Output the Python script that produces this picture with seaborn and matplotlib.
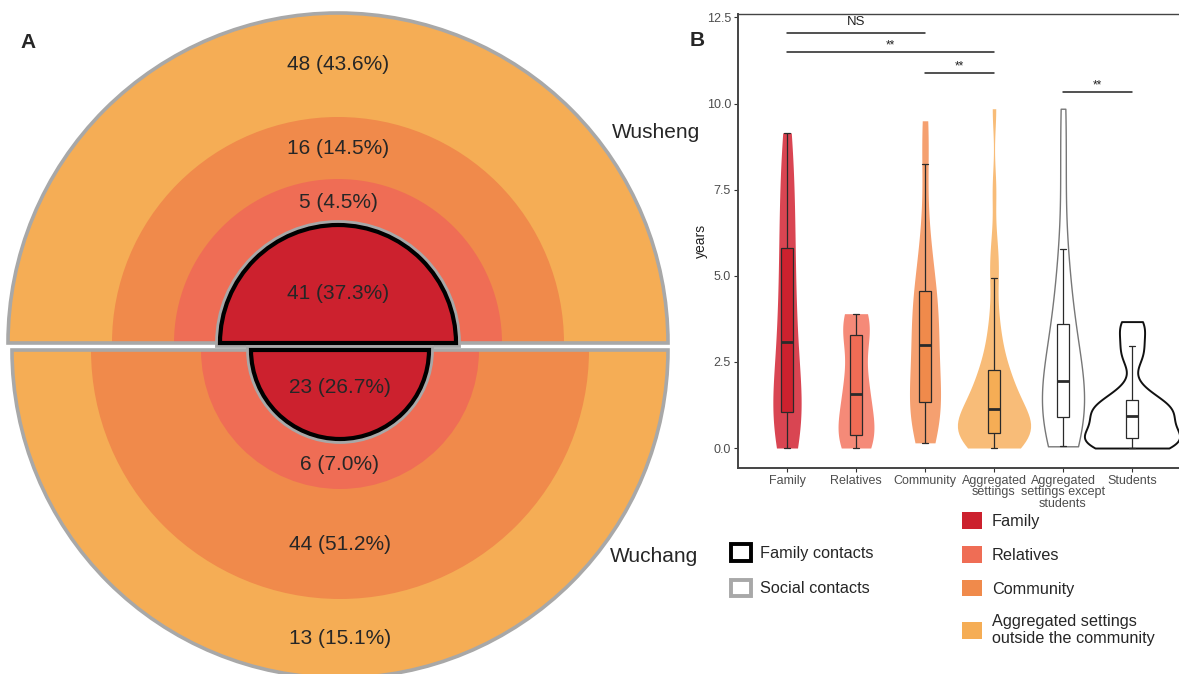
import numpy as np
import pandas as pd
import matplotlib
matplotlib.use("Agg")
import matplotlib.pyplot as plt
import seaborn as sns
from matplotlib.patches import Wedge, Patch

# ---- panel A data: contacts by setting, two towns
settings = ["Family", "Relatives", "Community", "Aggregated settings\noutside the community"]
wusheng_counts = [41, 5, 16, 48]
wuchang_counts = [23, 6, 44, 13]

groups = ["Family", "Relatives", "Community", "Aggregated\nsettings",
          "Aggregated\nsettings except\nstudents", "Students"]
family_years = [0.0, 0.2, 0.45, 0.7, 0.9, 1.06, 1.35, 1.7, 2.1, 2.6, 3.09,
                3.5, 4.0, 4.6, 5.2, 5.8, 6.4, 7.0, 7.7, 8.4, 9.15]
relatives_years = [0.0, 0.15, 0.3, 0.38, 0.8, 1.2, 1.56, 1.9, 2.4, 3.28, 3.5, 3.7, 3.9]
community_years = [0.15, 0.4, 0.7, 0.95, 1.15, 1.35, 1.6, 1.9, 2.3, 2.65, 3.0,
                   3.3, 3.6, 3.95, 4.3, 4.56, 5.0, 5.6, 6.5, 8.25, 9.5]
aggregated_years = [0.0, 0.05, 0.1, 0.15, 0.2, 0.25, 0.3, 0.35, 0.38, 0.42, 0.45,
                    0.5, 0.55, 0.6, 0.65, 0.7, 0.8, 0.85, 0.9, 1.0, 1.12,
                    1.2, 1.3, 1.4, 1.5, 1.6, 1.75, 1.9, 2.0, 2.15, 2.27,
                    2.5, 2.8, 3.1, 3.5, 4.0, 4.94, 5.3, 6.0, 7.5, 9.85]
except_students_years = [0.05, 0.2, 0.4, 0.6, 0.75, 0.91, 1.1, 1.3, 1.5, 1.7, 1.95,
                         2.2, 2.5, 2.8, 3.2, 3.6, 4.2, 4.9, 5.78, 8.0, 9.85]
students_years = [0.0, 0.05, 0.1, 0.15, 0.22, 0.29, 0.4, 0.5, 0.62, 0.8, 0.93,
                  1.0, 1.1, 1.2, 1.3, 1.38, 1.7, 2.6, 2.95, 3.4, 3.67]
group_values = [family_years, relatives_years, community_years, aggregated_years,
                except_students_years, students_years]

# significance brackets (group index pairs) and labels
sig_pairs = [(0, 2), (0, 3), (2, 3), (4, 5)]
sig_labels = ["NS", "**", "**", "**"]

# ---- styles / layout
ring_colors = ["#CC212E", "#EF6D55", "#F08A4B", "#F5AD55"]
violin_colors = ["#D94552", "#F58A78", "#F5A070", "#F8BC78", "white", "white"]
violin_edges = [None, None, None, None, "#777777", "#111111"]
box_colors = ["#CC212E", "#EF6C55", "#F08A4B", "#F5AD55", "white", "white"]
violin_width = [0.41, 0.52, 0.45, 1.06, 0.61, 1.38]
violin_bw = [0.8, 0.8, 0.7, 0.6, 0.9, 0.55]
ring_r_wusheng = [118, 164, 226, 330]
ring_r_wuchang = [89, 139, 249, 328]
sig_y = [12.06, 11.5, 10.88, 10.33]
gray = "#A8A8A8"

sns.set_theme(style="white")
plt.rcParams["font.family"] = ["Liberation Sans", "DejaVu Sans"]
narrow = ["Liberation Sans Narrow", "Liberation Sans", "DejaVu Sans"]

fig = plt.figure(figsize=(11.79, 6.74), dpi=100)

# ================= Panel A =================
axA = fig.add_axes([0, 0, 700 / 1179, 1])
axA.set_xlim(0, 700)
axA.set_ylim(0, 674)
axA.axis("off")


def half_rings(ax, center, radii, counts, t1, t2, sign):
    total = sum(counts)
    # outer layers first
    for r, c in zip(radii[::-1][:-1], ring_colors[::-1][:-1]):
        ax.add_patch(Wedge(center, r, t1, t2, facecolor=c, edgecolor="none"))
    ax.add_patch(Wedge(center, radii[-1], t1, t2, fill=False, edgecolor=gray, lw=2.6))
    # family core: gray halo + black outline
    ax.add_patch(Wedge(center, radii[0], t1, t2, facecolor=ring_colors[0],
                       edgecolor=gray, lw=7, joinstyle="miter"))
    ax.add_patch(Wedge(center, radii[0], t1, t2, facecolor=ring_colors[0],
                       edgecolor="black", lw=3, joinstyle="miter"))
    # labels
    inner = [0] + radii[:-1]
    for k, (n, r0, r1) in enumerate(zip(counts, inner, radii)):
        d = 0.42 * r1 if k == 0 else (r0 + r1) / 2
        ax.text(center[0], center[1] + sign * d, f"{n} ({100 * n / total:.1f}%)",
                ha="center", va="center", fontsize=15, family=narrow)


half_rings(axA, (338, 331), ring_r_wusheng, wusheng_counts, 0, 180, 1)
half_rings(axA, (340, 324), ring_r_wuchang, wuchang_counts, 180, 360, -1)
axA.text(612, 541, "Wusheng", fontsize=15, family=narrow, va="center")
axA.text(610, 118, "Wuchang", fontsize=15, family=narrow, va="center")
fig.text(20 / 1179, 1 - 42 / 674, "A", fontsize=15, fontweight="bold", va="center")
fig.text(690 / 1179, 1 - 40 / 674, "B", fontsize=15, fontweight="bold", va="center")

# ================= Panel B =================
axB = fig.add_axes([738 / 1179, (674 - 468) / 674, (1181 - 738) / 1179, (468 - 14) / 674])
long = pd.DataFrame({"group": np.repeat(groups, [len(v) for v in group_values]),
                     "years": np.concatenate(group_values)})

for i, g in enumerate(groups):
    sub = long[long["group"] == g]
    edge = violin_edges[i] if violin_edges[i] else violin_colors[i]
    lw = 1.4 if i == 5 else (1.0 if i == 4 else 0)
    sns.violinplot(data=sub, x="group", y="years", order=groups, cut=0,
                   density_norm="width", width=violin_width[i], bw_adjust=violin_bw[i],
                   inner=None, color=violin_colors[i], linecolor=edge, linewidth=lw,
                   saturation=1, ax=axB)

sns.boxplot(data=long, x="group", y="years", order=groups, hue="group",
            hue_order=groups, palette=box_colors, saturation=1, legend=False,
            width=0.16, showfliers=False, linecolor="#2A2A2A", linewidth=0.9,
            medianprops={"linewidth": 2.0, "color": "#2A2A2A"}, ax=axB)

for (a, b), lab, y in zip(sig_pairs, sig_labels, sig_y):
    axB.plot([a, b], [y, y], color="#222222", lw=1.1)
    axB.text((a + b) / 2, y + (0.32 if lab == "NS" else 0.2), lab,
             ha="center", va="center", fontsize=9.5 if lab == "NS" else 8.5,
             color="#222222")

axB.set_xlim(-0.71, 5.71)
axB.set_ylim(-0.58, 12.6)
axB.set_yticks([0, 2.5, 5, 7.5, 10, 12.5])
axB.set_yticklabels(["0.0", "2.5", "5.0", "7.5", "10.0", "12.5"])
axB.set_xlabel("")
axB.set_ylabel("years", fontsize=10, color="#222222", labelpad=-1)
axB.tick_params(axis="both", length=3, width=0.8, color="#333333",
                labelsize=9, labelcolor="#4D4D4D", bottom=True, left=True, pad=2)
for lab in axB.get_xticklabels():
    lab.set_linespacing(0.95)
    lab.set_va("top")
for sp in axB.spines.values():
    sp.set_color("#444444")
    sp.set_linewidth(1.0)
axB.spines["left"].set_linewidth(1.4)
axB.spines["bottom"].set_linewidth(1.4)

# ================= Legends =================
contact_handles = [Patch(facecolor="white", edgecolor="black", lw=2.8, label="Family contacts"),
                   Patch(facecolor="white", edgecolor=gray, lw=2.8, label="Social contacts")]
fig.legend(handles=contact_handles, loc="upper left", frameon=False,
           bbox_to_anchor=(731 / 1179, (674 - 544) / 674), fontsize=11.7,
           handlelength=1.2, handleheight=1.2, handletextpad=0.6,
           labelspacing=1.15, borderpad=0, borderaxespad=0)

setting_handles = [Patch(facecolor=c, edgecolor="none", label=s)
                   for c, s in zip(ring_colors, settings)]
fig.legend(handles=setting_handles, loc="upper left", frameon=False,
           bbox_to_anchor=(962 / 1179, (674 - 512) / 674), fontsize=11.7,
           handlelength=1.2, handleheight=1.2, handletextpad=0.65,
           labelspacing=1.05, borderpad=0, borderaxespad=0)

fig.savefig("out.png", dpi=100)
